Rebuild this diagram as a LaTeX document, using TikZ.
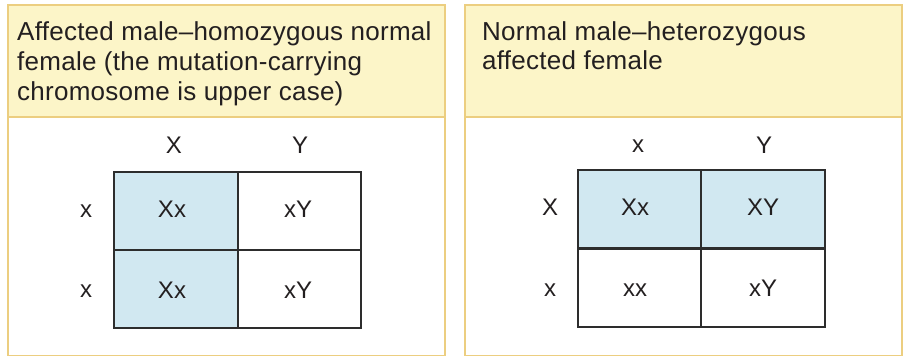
\documentclass[tikz,border=0pt]{standalone}
\usepackage{fontspec}
\setmainfont{Liberation Sans}
\newfontfamily\hdrfont[LetterSpace=1]{Liberation Sans}
\definecolor{hdrfill}{RGB}{252,245,200}
\definecolor{hdrline}{RGB}{236,206,128}
\definecolor{cellblue}{RGB}{209,232,241}
\definecolor{ink}{RGB}{35,31,32}
\definecolor{gridline}{RGB}{45,45,45}
\tikzset{
  panel/.style={draw=hdrline, line width=1.5pt},
  header/.style={fill=hdrfill},
  hdrtext/.style={anchor=base west, inner sep=0pt, text=ink, font=\hdrfont\fontsize{26}{30}\selectfont},
  lbl/.style={anchor=base, inner sep=0pt, text=ink, font=\fontsize{24}{28}\selectfont},
  cellbox/.style={draw=gridline, line width=2pt, minimum width=123.5pt, minimum height=78pt, inner sep=0pt, anchor=north west},
}
\begin{document}
\begin{tikzpicture}[x=1pt,y=-1pt]
\useasboundingbox (0,0) rectangle (907,356);
% left panel
\fill[header] (8,5) rectangle (445,117);
\draw[panel] (8,5) rectangle (445,355.5);
\draw[panel] (8,117) -- (445,117);
\node[hdrtext] (lh1) at (17,40.5) {Affected male–homozygous normal};
\node[hdrtext] (lh2) at (17,70.3) {female (the mutation-carrying};
\node[hdrtext] (lh3) at (17,100) {chromosome is upper case)};
% right panel
\fill[header] (465,5) rectangle (902,117);
\draw[panel] (465,5) rectangle (902,355.5);
\draw[panel] (465,117) -- (902,117);
\node[hdrtext] (rh1) at (482,40.5) {Normal male–heterozygous};
\node[hdrtext] (rh2) at (482,69.5) {affected female};
% left grid
\node[cellbox, fill=cellblue] (L11) at (113,171) {};
\node[cellbox, fill=white, minimum width=123pt] (L12) at (237,171) {};
\node[cellbox, fill=cellblue] (L21) at (113,249) {};
\node[cellbox, fill=white, minimum width=123pt] (L22) at (237,249) {};
\node[lbl] (Lc1) at (174,153.5) {X};
\node[lbl] (Lc2) at (300,153.5) {Y};
\node[lbl] (Lr1) at (86,217) {x};
\node[lbl] (Lr2) at (86,297.5) {x};
\node[lbl] (L11t) at (172,217.5) {Xx};
\node[lbl] (L12t) at (298,217.5) {xY};
\node[lbl] (L21t) at (172,298.5) {Xx};
\node[lbl] (L22t) at (298,298.5) {xY};
% right grid
\node[cellbox, fill=cellblue, minimum width=123pt] (R11) at (577,169) {};
\node[cellbox, fill=cellblue, minimum width=124pt] (R12) at (700,169) {};
\node[cellbox, fill=white, minimum width=123pt] (R21) at (577,248) {};
\node[cellbox, fill=white, minimum width=124pt] (R22) at (700,248) {};
\node[lbl] (Rc1) at (638,152) {x};
\node[lbl] (Rc2) at (764,153.5) {Y};
\node[lbl] (Rr1) at (550,215.5) {X};
\node[lbl] (Rr2) at (550,296) {x};
\node[lbl] (R11t) at (635,215.5) {Xx};
\node[lbl] (R12t) at (763,215.5) {XY};
\node[lbl] (R21t) at (635,296.5) {xx};
\node[lbl] (R22t) at (763,296.5) {xY};
\end{tikzpicture}
\end{document}
